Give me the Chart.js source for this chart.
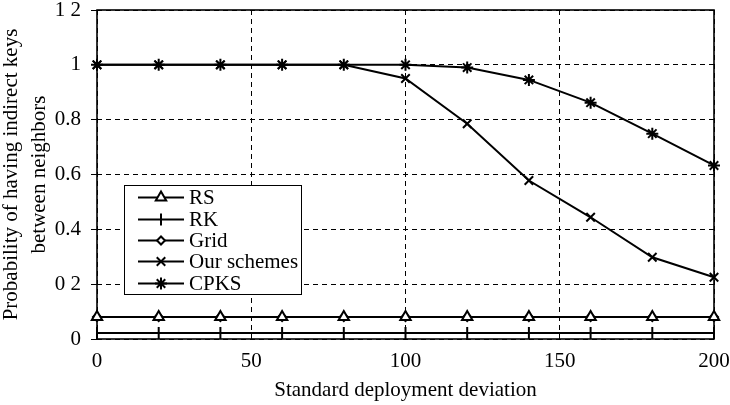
<!DOCTYPE html>
<html>
<head>
<meta charset="utf-8">
<script src="https://cdn.jsdelivr.net/npm/chart.js@4.4.0/dist/chart.umd.min.js"></script>
<style>
  body { margin: 0; background: #fff; }
  #wrap { position: relative; width: 730px; height: 405px; }
  #legend {
    position: absolute; left: 124px; top: 185px; width: 178px; height: 110px;
    box-sizing: border-box; border: 1px solid #000; background: #fff;
    font: 21px "Liberation Serif", "Times New Roman", serif; color: #000;
    padding-top: 1px;
  }
  .row { display: flex; align-items: center; height: 21.4px; }
  .row canvas { margin-left: 13px; margin-right: 5px; }
</style>
</head>
<body>
<div id="wrap">
  <canvas id="chart" width="730" height="405"></canvas>
  <div id="legend"></div>
</div>
<script>
// x values (standard deployment deviation)
const deviation = [0, 20, 40, 60, 80, 100, 120, 140, 160, 180, 200]
// probability values
const rs = [0.08, 0.08, 0.08, 0.08, 0.08, 0.08, 0.08, 0.08, 0.08, 0.08, 0.08]
const rk = [0.022, 0.022, 0.022, 0.022, 0.022, 0.022, 0.022, 0.022, 0.022, 0.022, 0.022]
const gridScheme = [0.08, 0.08, 0.08, 0.08, 0.08, 0.08, 0.08, 0.08, 0.08, 0.08, 0.08]
const ourSchemes = [1, 1, 1, 1, 1, 0.95, 0.785, 0.578, 0.444, 0.298, 0.225]
const cpks = [1, 1, 1, 1, 1, 1, 0.99, 0.945, 0.862, 0.749, 0.633]
// y tick labels as printed in the figure
const yTickLabels = ["0", "0 2", "0.4", "0.6", "0.8", "1", "1 2"]

const font = { family: "'Liberation Serif', 'Times New Roman', serif", size: 21 }

function points(values) {
  return values.map((v, i) => ({ x: deviation[i], y: v }))
}

function series(label, values, style, radius, rotation) {
  return {
    label: label,
    data: points(values),
    borderColor: "#000",
    borderWidth: 2,
    pointStyle: style,
    pointRadius: radius,
    pointRotation: rotation || 0,
    pointBorderColor: "#000",
    pointBackgroundColor: "#fff",
    pointBorderWidth: 2,
    tension: 0,
    clip: false
  }
}

const frame = {
  id: "frame",
  beforeDatasetsDraw(chart) {
    const { ctx, chartArea } = chart
    ctx.save()
    ctx.strokeStyle = "#000"
    ctx.lineWidth = 1.6
    ctx.strokeRect(chartArea.left, chartArea.top, chartArea.right - chartArea.left, chartArea.bottom - chartArea.top)
    ctx.restore()
  }
}

const chart = new Chart(document.getElementById("chart"), {
  type: "line",
  data: {
    datasets: [
      series("RS", rs, "triangle", 6),
      series("RK", rk, "line", 6, 90),
      series("Grid", gridScheme, "rectRot", 4),
      series("Our schemes", ourSchemes, "crossRot", 6),
      series("CPKS", cpks, "star", 6)
    ]
  },
  options: {
    responsive: false,
    animation: false,
    layout: { padding: { top: 10, right: 16, left: 0, bottom: 0 } },
    plugins: { legend: { display: false }, tooltip: { enabled: false } },
    scales: {
      x: {
        type: "linear",
        min: 0,
        max: 200,
        ticks: { stepSize: 50, color: "#000", font: font, padding: 10, maxRotation: 0 },
        grid: { color: "#000", lineWidth: 1, drawTicks: false },
        border: { display: false, dash: [5, 4] },
        title: { display: true, text: "Standard deployment deviation", color: "#000", font: font, padding: { top: 0, bottom: 2 } },
        afterFit(scale) {
          scale.height = 66
          scale.paddingLeft = 0
          scale.paddingRight = 0
        }
      },
      y: {
        min: 0,
        max: 1.2,
        ticks: {
          stepSize: 0.2,
          color: "#000",
          font: font,
          padding: 10,
          callback: (value, index) => yTickLabels[index]
        },
        grid: { color: "#000", lineWidth: 1, tickLength: 6 },
        border: { display: false, dash: [5, 4] },
        title: {
          display: true,
          text: ["Probability of having indirect keys", "between neighbors"],
          color: "#000",
          font: { family: font.family, size: 21, lineHeight: 1.33 },
          padding: { top: -2, bottom: 0 }
        },
        afterFit(scale) {
          scale.width = 97
          scale.paddingTop = 0
          scale.paddingBottom = 0
        }
      }
    }
  },
  plugins: [frame]
})

// legend: line with marker followed by the series name
const legend = document.getElementById("legend")
chart.data.datasets.forEach(ds => {
  const row = document.createElement("div")
  row.className = "row"
  const icon = document.createElement("canvas")
  icon.width = 46
  icon.height = 21
  const ctx = icon.getContext("2d")
  ctx.strokeStyle = "#000"
  ctx.lineWidth = 2
  ctx.beginPath()
  ctx.moveTo(0, 10.5)
  ctx.lineTo(46, 10.5)
  ctx.stroke()
  ctx.fillStyle = "#fff"
  ctx.lineWidth = ds.pointBorderWidth
  Chart.helpers.drawPoint(ctx, {
    pointStyle: ds.pointStyle,
    rotation: ds.pointRotation,
    radius: ds.pointRadius,
    borderWidth: ds.pointBorderWidth
  }, 23, 10.5)
  const text = document.createElement("span")
  text.textContent = ds.label
  row.appendChild(icon)
  row.appendChild(text)
  legend.appendChild(row)
})
</script>
</body>
</html>
